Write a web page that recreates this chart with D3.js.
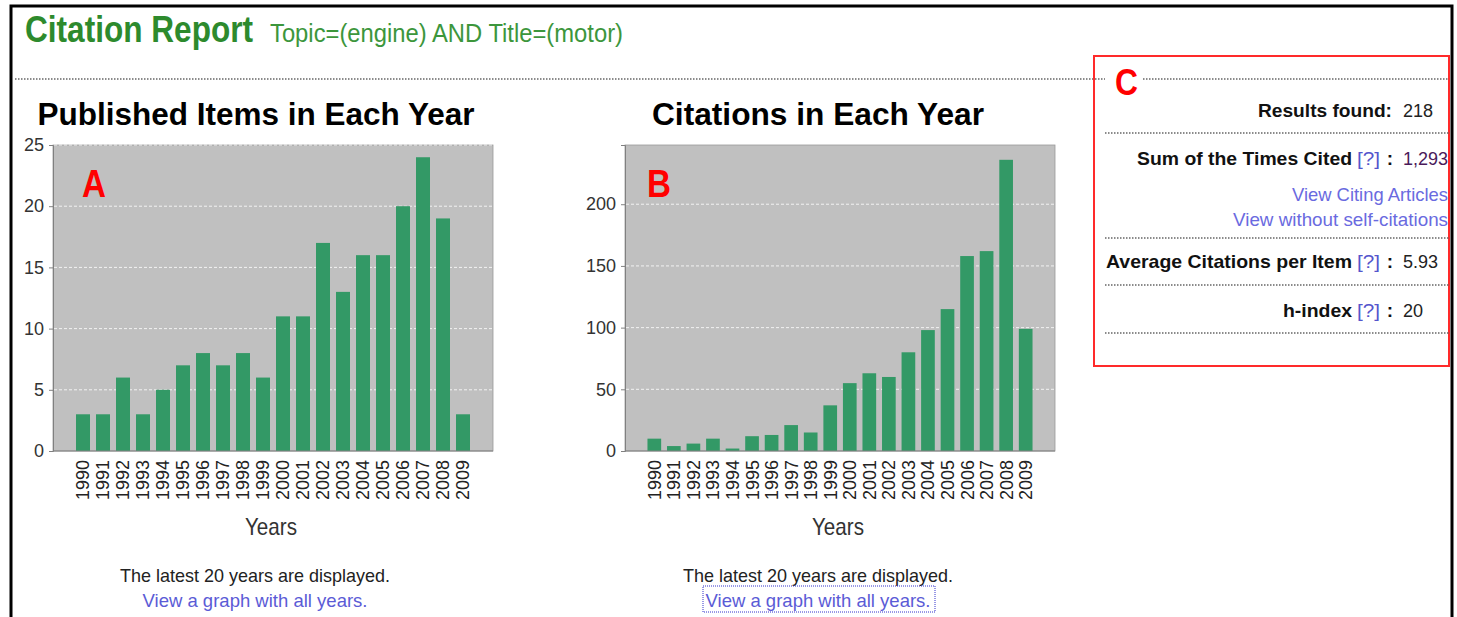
<!DOCTYPE html>
<html>
<head>
<meta charset="utf-8">
<script src="https://cdn.jsdelivr.net/npm/d3@7"></script>
<style>
  body { margin: 0; background: #fff; }
  svg { display: block; font-family: "Liberation Sans", Arial, sans-serif; }
</style>
</head>
<body>
<div id="vis"></div>
<script>
// data
const years = ["1990", "1991", "1992", "1993", "1994", "1995", "1996", "1997", "1998", "1999",
               "2000", "2001", "2002", "2003", "2004", "2005", "2006", "2007", "2008", "2009"];
const publishedItems = [3, 3, 6, 3, 5, 7, 8, 7, 8, 6, 11, 11, 17, 13, 16, 16, 20, 24, 19, 3];
const citations = [10, 4, 6, 10, 2, 12, 13, 21, 15, 37, 55, 63, 60, 80, 98, 115, 158, 162, 236, 99];
const itemTicks = [0, 5, 10, 15, 20, 25];
const citationTicks = [0, 50, 100, 150, 200];

const summaryLabels = ["Results found:", "Sum of the Times Cited", "Average Citations per Item", "h-index"];
const summaryValues = ["218", "1,293", "5.93", "20"];
const summaryHelp = [false, true, true, true];
const citingLinks = ["View Citing Articles", "View without self-citations"];

const W = 1457, H = 617;
const barColor = "#339966";

const svg = d3.select("#vis").append("svg")
  .attr("width", W)
  .attr("height", H);

// helper: text with optional fitted width
function txt(g, x, y, s, opt) {
  opt = opt || {};
  const t = g.append("text")
    .attr("x", x)
    .attr("y", y)
    .attr("font-size", opt.size || 18)
    .attr("font-weight", opt.weight || "normal")
    .attr("fill", opt.color || "#222")
    .attr("text-anchor", opt.anchor || "start")
    .text(s);
  if (opt.len) t.attr("textLength", opt.len).attr("lengthAdjust", "spacingAndGlyphs");
  return t;
}

// page frame
svg.append("path")
  .attr("d", "M11,617 V6 H1452 V617")
  .attr("fill", "none")
  .attr("stroke", "#000")
  .attr("stroke-width", 3);

// header
txt(svg, 25, 42, "Citation Report", {size: 36, weight: "bold", color: "#2d8a2d", len: 228});
txt(svg, 270, 42, "Topic=(engine) AND Title=(motor)", {size: 25, color: "#3c963c", len: 353});

function dotted(x1, x2, y) {
  svg.append("line")
    .attr("x1", x1).attr("x2", x2)
    .attr("y1", y).attr("y2", y)
    .attr("stroke", "#666")
    .attr("stroke-width", 1.5)
    .attr("stroke-dasharray", "1.5,1.5");
}
dotted(15, 1105, 79);
dotted(1143, 1448, 79);

function drawChart(o) {
  const g = svg.append("g");
  const x = d3.scaleBand()
    .domain(years)
    .range([o.left, o.right])
    .paddingInner(0.3)
    .paddingOuter(1.15);
  const y = d3.scaleLinear()
    .domain([0, o.max])
    .range([o.bottom, o.top]);

  txt(g, o.titleX, 125, o.title, {size: 31, weight: "bold", color: "#000", anchor: "middle", len: o.titleLen});

  g.append("rect")
    .attr("x", o.left).attr("y", o.top)
    .attr("width", o.right - o.left).attr("height", o.bottom - o.top)
    .attr("fill", "#c0c0c0")
    .attr("stroke", "#9a9a9a")
    .attr("stroke-width", 0.8);

  // grid
  g.selectAll(".grid")
    .data(o.ticks.filter(d => d > 0))
    .enter().append("line")
    .attr("x1", o.left + 1).attr("x2", o.right - 1)
    .attr("y1", d => y(d)).attr("y2", d => y(d))
    .attr("stroke", "#f2f2f2")
    .attr("stroke-width", 1)
    .attr("stroke-dasharray", "3,2");

  // bars
  g.selectAll(".bar")
    .data(o.values)
    .enter().append("rect")
    .attr("x", (d, i) => x(years[i]))
    .attr("y", d => y(d))
    .attr("width", x.bandwidth())
    .attr("height", d => y(0) - y(d))
    .attr("fill", barColor);

  // y axis
  const yAxis = g.append("g")
    .attr("transform", "translate(" + o.left + ",0)")
    .call(d3.axisLeft(y).tickValues(o.ticks).tickSize(4).tickPadding(5));
  yAxis.select(".domain").attr("stroke", "#808080");
  yAxis.selectAll(".tick line").attr("stroke", "#808080");
  yAxis.selectAll("text")
    .attr("font-size", 18)
    .attr("font-family", "Liberation Sans, Arial, sans-serif")
    .attr("fill", "#333");

  // bottom axis line
  g.append("line")
    .attr("x1", o.left).attr("x2", o.right)
    .attr("y1", o.bottom).attr("y2", o.bottom)
    .attr("stroke", "#808080");

  // year labels, rotated
  g.selectAll(".yr")
    .data(years)
    .enter().append("text")
    .attr("transform", d => "translate(" + (x(d) + x.bandwidth() / 2) + ",460) rotate(-90)")
    .attr("text-anchor", "end")
    .attr("dy", "0.36em")
    .attr("font-size", 18)
    .attr("fill", "#222")
    .text(d => d);

  const cx = (o.left + o.right) / 2;
  txt(g, cx - 2, 535, "Years", {size: 24, color: "#333", anchor: "middle", len: 52});

  // panel letter
  txt(g, o.letterX, 197, o.letter, {size: 38, weight: "bold", color: "#ff0000", len: 24});

  txt(g, o.noteX, 582, "The latest 20 years are displayed.", {size: 19, color: "#222", anchor: "middle", len: 270});
  txt(g, o.noteX, 607, "View a graph with all years.", {size: 19, color: "#5b5bd6", anchor: "middle", len: 225});
  return g;
}

drawChart({
  left: 53, right: 493, top: 145, bottom: 451, max: 25,
  values: publishedItems, ticks: itemTicks,
  title: "Published Items in Each Year", titleX: 256, titleLen: 437,
  letter: "A", letterX: 82, noteX: 255
});

const gB = drawChart({
  left: 625, right: 1055, top: 145, bottom: 451, max: 248,
  values: citations, ticks: citationTicks,
  title: "Citations in Each Year", titleX: 818, titleLen: 332,
  letter: "B", letterX: 647, noteX: 818
});
// focus outline round the second link
gB.append("rect")
  .attr("x", 703).attr("y", 586)
  .attr("width", 232).attr("height", 26)
  .attr("fill", "none")
  .attr("stroke", "#3333cc")
  .attr("stroke-width", 1)
  .attr("stroke-dasharray", "1,1");

// summary box C
svg.append("rect")
  .attr("x", 1094).attr("y", 56)
  .attr("width", 355).attr("height", 310)
  .attr("fill", "none")
  .attr("stroke", "#ff2a2a")
  .attr("stroke-width", 2);
txt(svg, 1115, 95, "C", {size: 37, weight: "bold", color: "#ff0000", len: 23});

const rowY = [117, 165, 268, 317];
const labelLen = [134, 215, 246, 69];
summaryLabels.forEach((lab, i) => {
  const endX = summaryHelp[i] ? 1352 : 1392;
  txt(svg, endX, rowY[i], lab, {size: 19, weight: "bold", color: "#111", anchor: "end", len: labelLen[i]});
  if (summaryHelp[i]) {
    txt(svg, 1380, rowY[i], "[?]", {size: 19, color: "#5555cc", anchor: "end", len: 23});
    txt(svg, 1390, rowY[i], ":", {size: 19, weight: "bold", color: "#111", anchor: "middle"});
  }
  txt(svg, 1403, rowY[i], summaryValues[i], {size: 18, color: i === 1 ? "#4a1a5a" : "#222"});
});
txt(svg, 1448, 201, citingLinks[0], {size: 19, color: "#6a6ae0", anchor: "end", len: 156});
txt(svg, 1448, 226, citingLinks[1], {size: 19, color: "#6a6ae0", anchor: "end", len: 215});

[133, 238, 285, 333].forEach(yy => dotted(1105, 1449, yy));
</script>
</body>
</html>
